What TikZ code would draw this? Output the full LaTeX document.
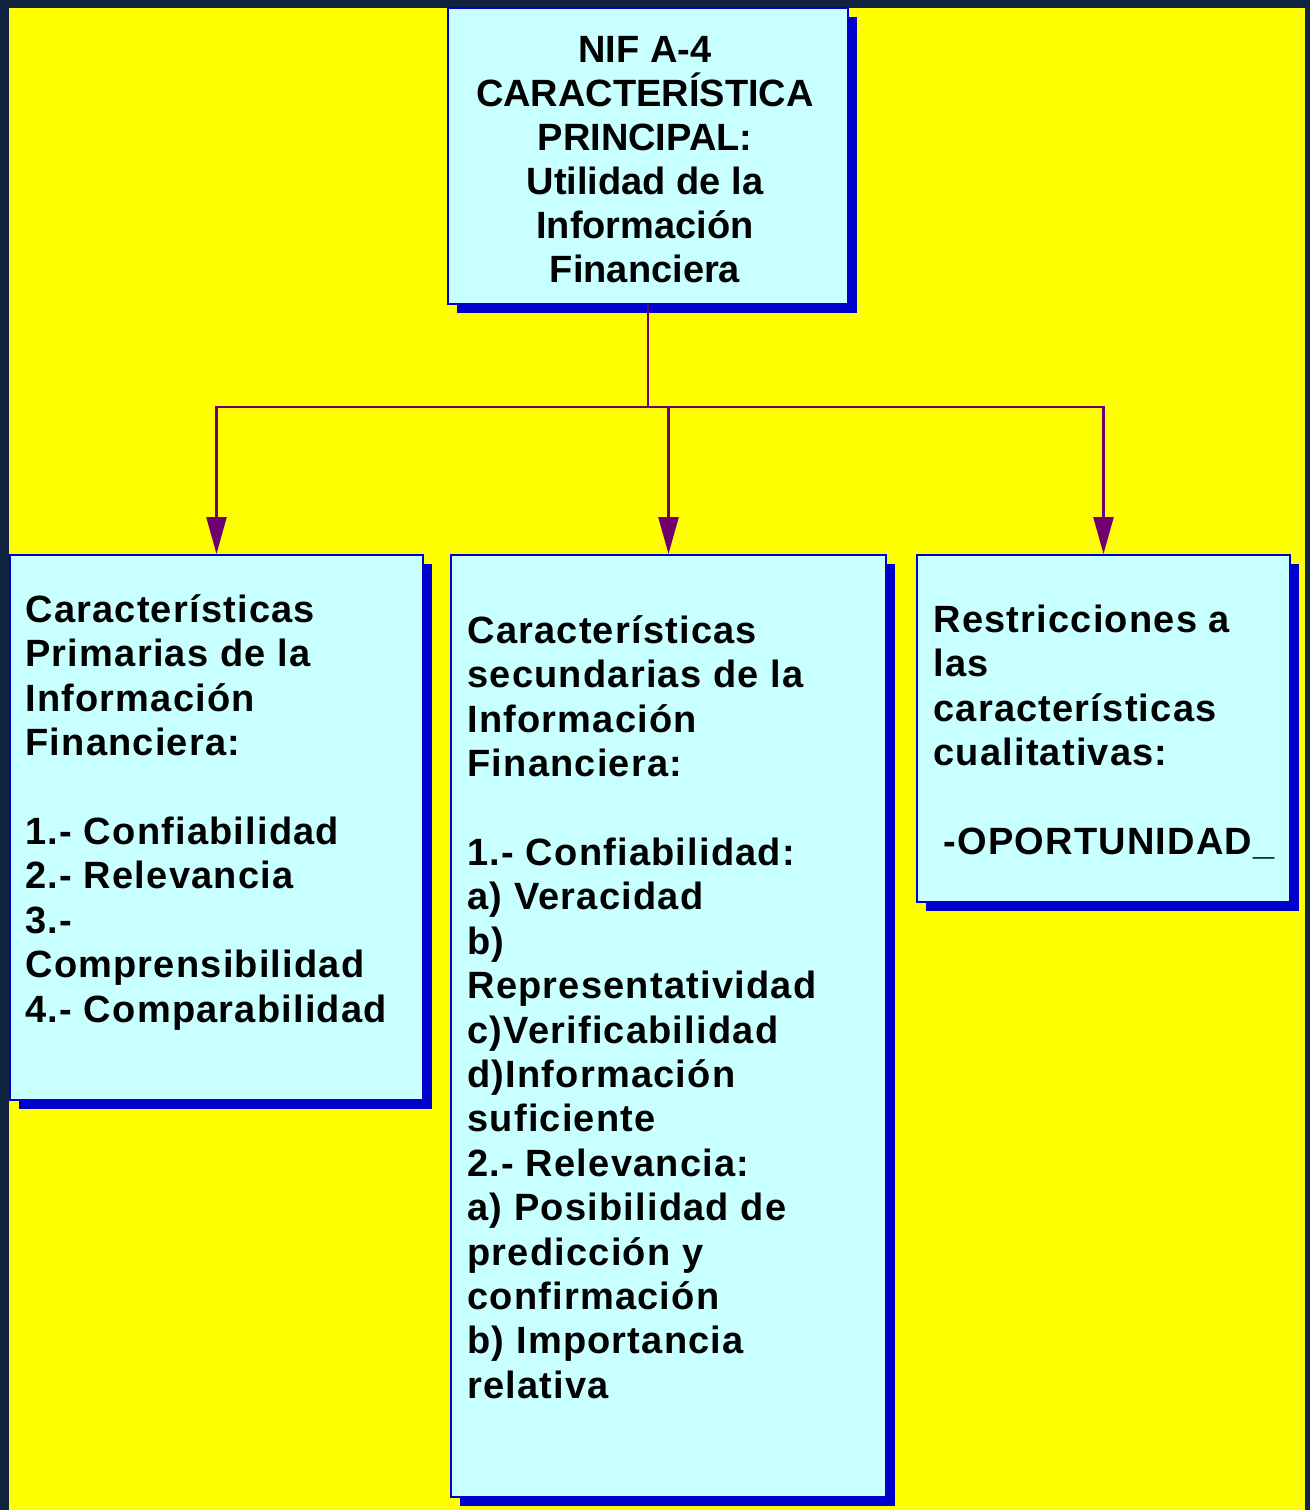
\documentclass[tikz,border=0pt]{standalone}
\usepackage{fontspec}
\setmainfont{Liberation Sans}
\newfontfamily\spacedfont[LetterSpace=3.2]{Liberation Sans}
\usetikzlibrary{arrows.meta,shadows}
\definecolor{framedark}{RGB}{16,35,63}
\definecolor{bgyellow}{RGB}{255,255,0}
\definecolor{boxfill}{RGB}{200,255,255}
\definecolor{boxblue}{RGB}{0,0,204}
\definecolor{linkpurple}{RGB}{112,0,112}
\tikzset{
  infobox/.style={rectangle,draw=boxblue,line width=1pt,fill=boxfill,inner sep=0pt,
    drop shadow={shadow xshift=4.5pt,shadow yshift=-4.5pt,fill=boxblue,opacity=1}},
  boxtext/.style={inner sep=0pt,font=\fontsize{19pt}{22.2pt}\selectfont\bfseries\spacedfont,align=left,anchor=north west},
  link/.style={draw=linkpurple,line width=1.3pt,-{Triangle[length=18.5pt,width=10pt]}}
}
\begin{document}
\begin{tikzpicture}[x=0.5pt,y=-0.5pt]
  \useasboundingbox (0,0) rectangle (1310,1510);
  \fill[framedark] (0,0) rectangle (1310,1510);
  \fill[bgyellow] (9,8) rectangle (1305,1510);
  % cajas
  \node[infobox,minimum width=200pt,minimum height=148pt] (main) at (648,156) {};
  \node[infobox,minimum width=206.5pt,minimum height=272.5pt] (prim) at (216.5,827.5) {};
  \node[infobox,minimum width=217.5pt,minimum height=471pt] (sec) at (668.5,1026) {};
  \node[infobox,minimum width=186.5pt,minimum height=173.5pt] (restr) at (1103.5,728.5) {};
  % textos
  \node[boxtext,font=\fontsize{19pt}{22pt}\selectfont\bfseries,align=center,anchor=north] (maintext) at (645,30)
    {\rule{0pt}{16pt}NIF A-4\\CARACTERÍSTICA\\PRINCIPAL:\\Utilidad de la\\Información\\Financiera};
  \node[boxtext] (primtext) at (25,590)
    {\rule{0pt}{16pt}Características\\Primarias de la\\Información\\Financiera:\\[22.2pt]
     1.- Confiabilidad\\2.- Relevancia\\3.-\\Comprensibilidad\\4.- Comparabilidad};
  \node[boxtext] (sectext) at (467,611)
    {\rule{0pt}{16pt}Características\\secundarias de la\\Información\\Financiera:\\[22.2pt]
     1.- Confiabilidad:\\a) Veracidad\\b)\\Representatividad\\c)Verificabilidad\\d)Información\\suficiente\\
     2.- Relevancia:\\a) Posibilidad de\\predicción y\\confirmación\\b) Importancia\\relativa};
  \node[boxtext] (restrtext) at (933,600)
    {\rule{0pt}{16pt}Restricciones a\\las\\características\\cualitativas:\\[22.2pt]
     \hspace*{5pt}-OPORTUNIDAD\_};
  % conectores
  \coordinate (bus) at (648,407);
  \draw[draw=linkpurple,line width=1.3pt] (main.south) -- (bus);
  \draw[link] (bus) -| (prim.north);
  \draw[link] (bus) -| (sec.north);
  \draw[link] (bus) -| (restr.north);
\end{tikzpicture}
\end{document}
